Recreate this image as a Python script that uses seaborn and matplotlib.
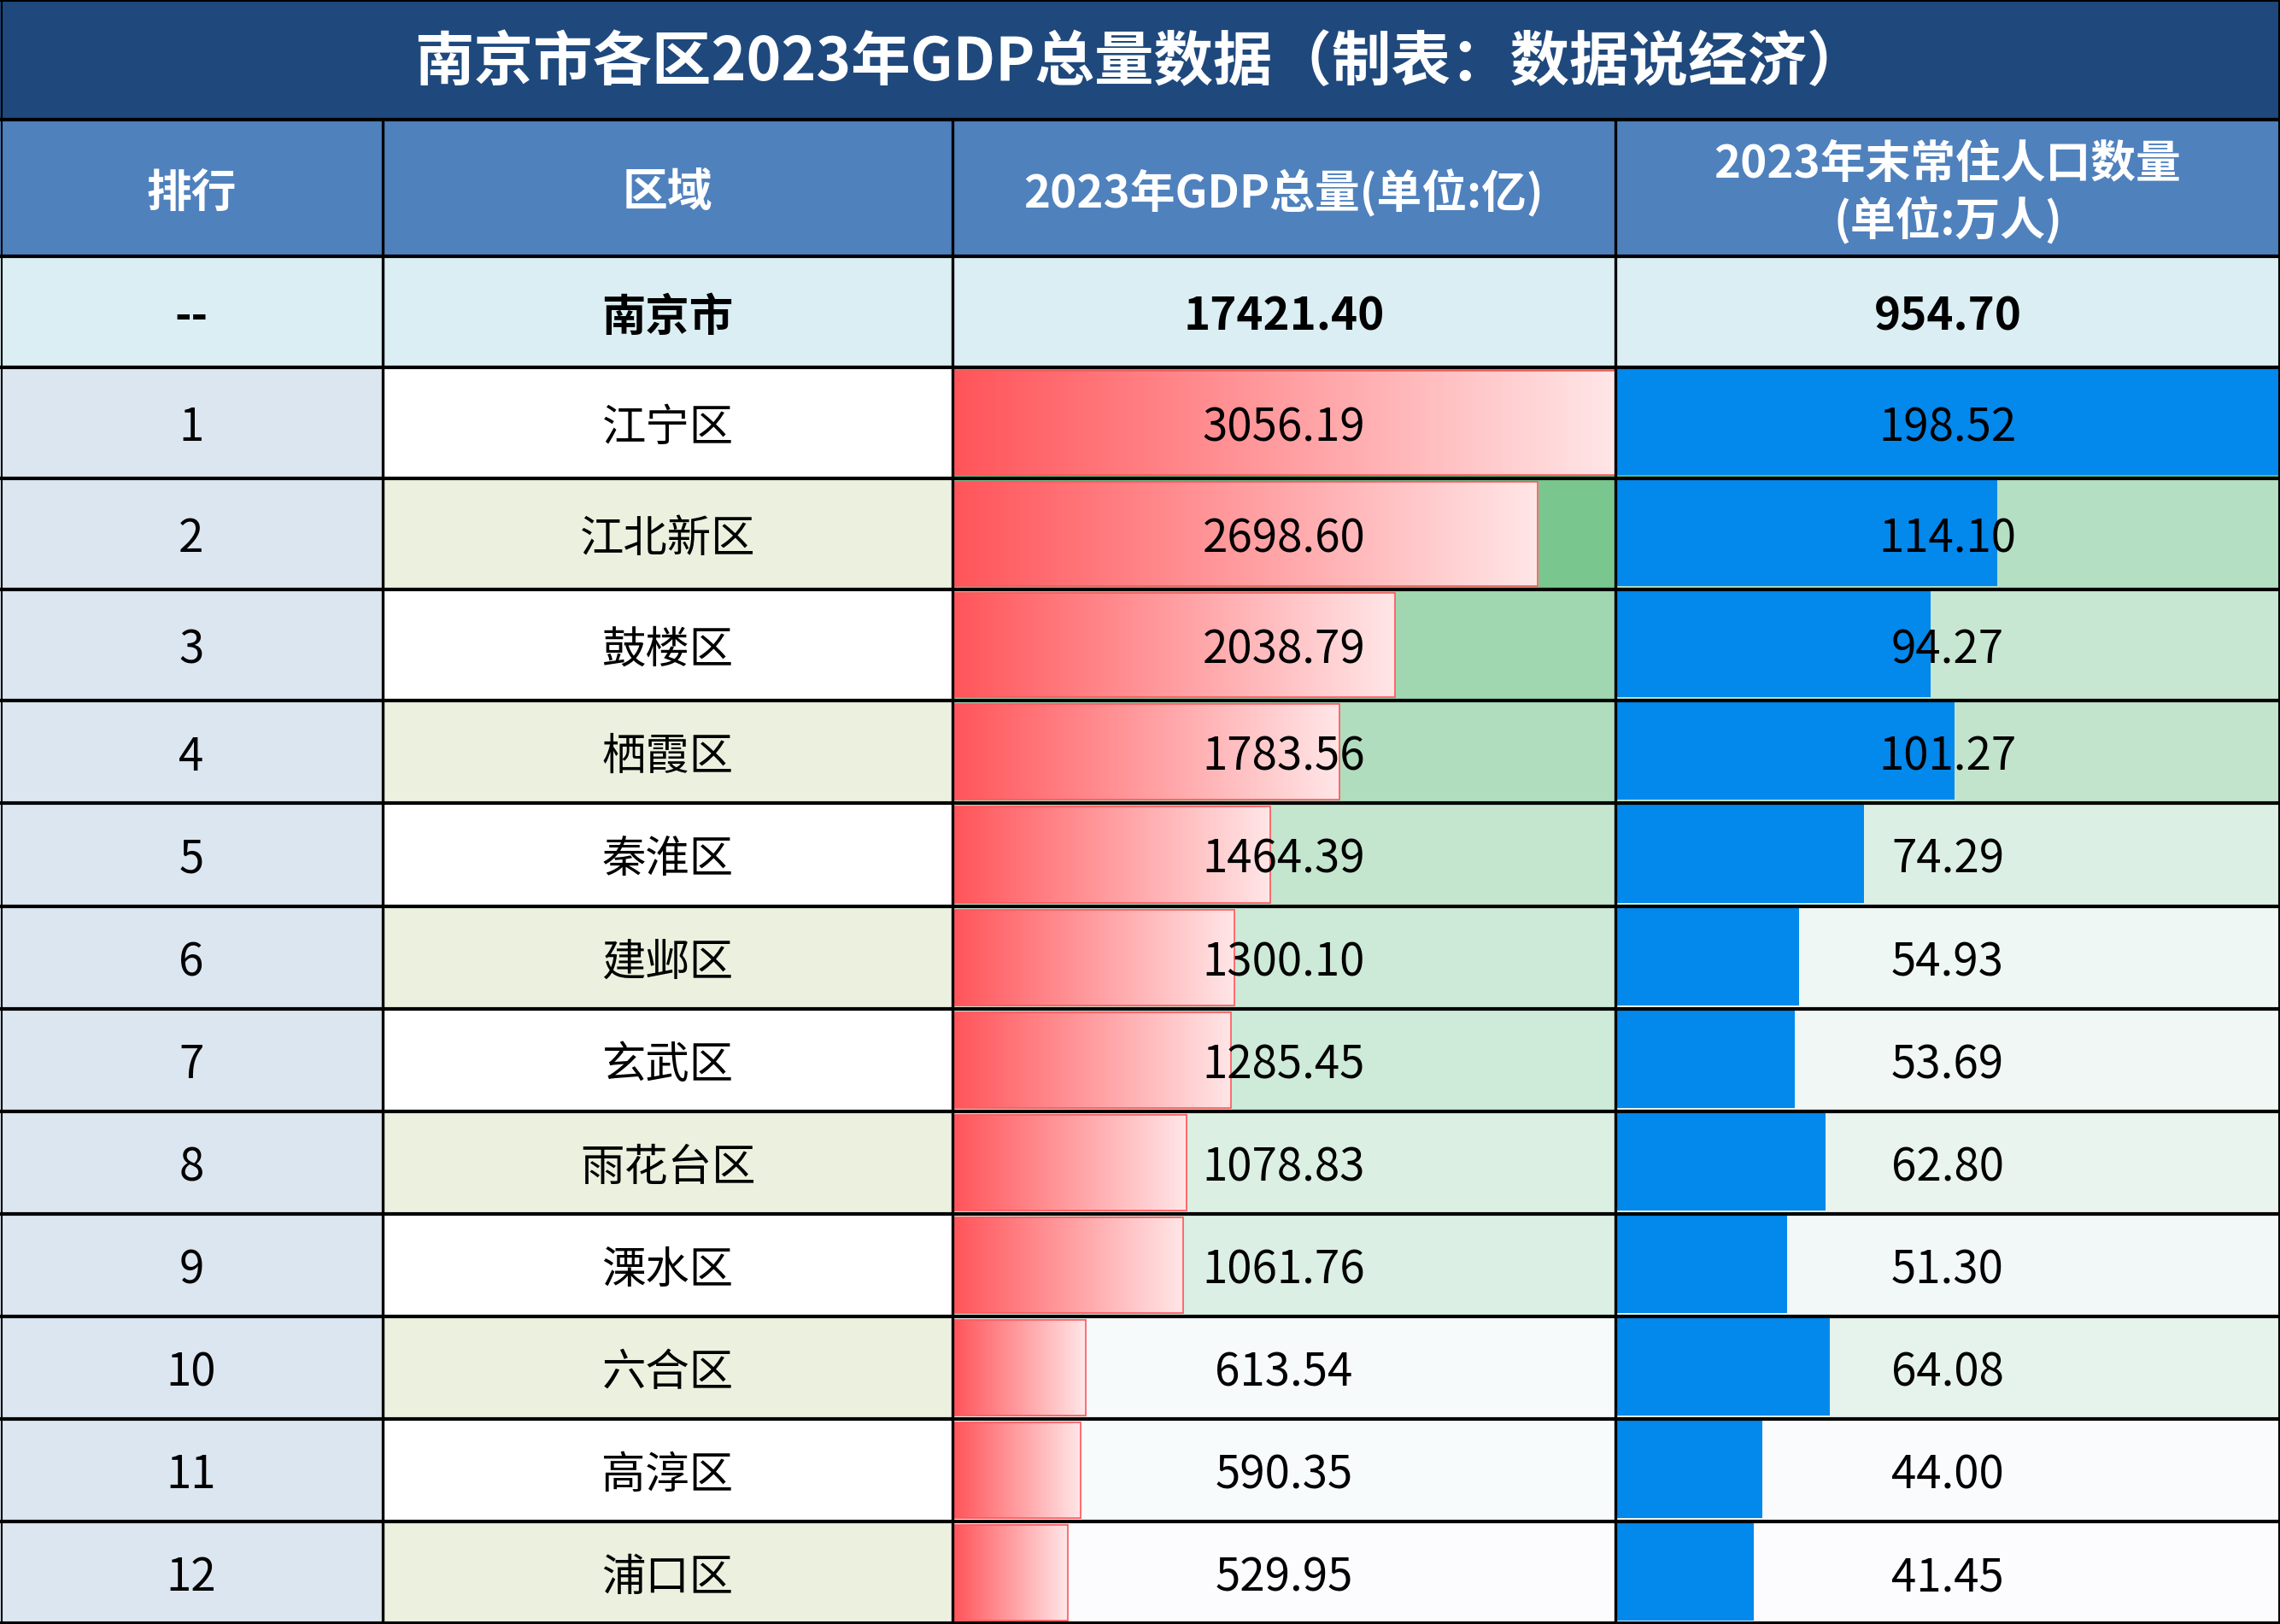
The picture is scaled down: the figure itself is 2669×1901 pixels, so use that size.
import numpy as np
import matplotlib
matplotlib.use('Agg')
import matplotlib.pyplot as plt
import seaborn as sns
from matplotlib.colors import Normalize

# ---- 数据 ----
ranks = ['1', '2', '3', '4', '5', '6', '7', '8', '9', '10', '11', '12']
districts = ['江宁区', '江北新区', '鼓楼区', '栖霞区', '秦淮区', '建邺区',
             '玄武区', '雨花台区', '溧水区', '六合区', '高淳区', '浦口区']
gdp_2023 = [3056.19, 2698.60, 2038.79, 1783.56, 1464.39, 1300.10,
            1285.45, 1078.83, 1061.76, 613.54, 590.35, 529.95]
population_2023 = [198.52, 114.10, 94.27, 101.27, 74.29, 54.93,
                   53.69, 62.80, 51.30, 64.08, 44.00, 41.45]
city_rank = '--'
city_name = '南京市'
city_gdp = 17421.40
city_population = 954.70

title = '南京市各区2023年GDP总量数据（制表：数据说经济）'
col_headers = ['排行', '区域', '2023年GDP总量(单位:亿)', '2023年末常住人口数量\n(单位:万人)']

# ---- 布局（像素） ----
W, H = 2669, 1901
col_edges = [0, 448, 1115, 1891, 2669]
row_edges = [140, 300, 430, 560, 690, 820, 940, 1061, 1181, 1301, 1421, 1541, 1661, 1781, 1901]

CJK = ['Noto Sans CJK SC', 'DejaVu Sans']
NUM = ['Liberation Sans Narrow', 'Noto Sans CJK SC', 'DejaVu Sans']

sns.set_theme(style='white')
plt.rcParams['font.family'] = CJK
plt.rcParams['axes.unicode_minus'] = False

green_cmap = sns.blend_palette(['#FCFCFF', '#63BE7B'], as_cmap=True)
red_cmap = sns.blend_palette(['#FF555A', '#FFE6E7'], as_cmap=True)
bar_blue = '#0388EC'

fig = plt.figure(figsize=(W / 100, H / 100), dpi=100)
ax = fig.add_axes([0, 0, 1, 1])


def cell(col, y0, y1, color, z=1):
    """填充一个单元格背景"""
    ax.barh((y0 + y1) / 2, col_edges[col + 1] - col_edges[col], left=col_edges[col],
            height=y1 - y0, color=color, linewidth=0, zorder=z)


def cell_text(col, y0, y1, s, family=CJK, size=36, weight='normal', color='black', dy=6):
    xc = (col_edges[col] + col_edges[col + 1]) / 2
    ax.text(xc, (y0 + y1) / 2 + dy, s, ha='center', va='center', fontsize=size,
            fontweight=weight, color=color, family=family, zorder=6, linespacing=1.25)


# 标题
ax.barh(row_edges[0] / 2, W, left=0, height=row_edges[0], color='#1F497D', linewidth=0, zorder=1)
ax.text(W / 2, row_edges[0] / 2 + 4, title, ha='center', va='center', fontsize=50,
        fontweight='bold', color='white', zorder=6)

# 表头
for c, name in enumerate(col_headers):
    cell(c, row_edges[0], row_edges[1], '#4F81BD')
    cell_text(c, row_edges[0], row_edges[1], name, size=38, weight='bold', color='white')

# 合计行
y0, y1 = row_edges[1], row_edges[2]
for c in range(4):
    cell(c, y0, y1, '#DAEEF3')
cell_text(0, y0, y1, city_rank, family=NUM, size=38, weight='bold')
cell_text(1, y0, y1, city_name, size=37, weight='bold')
cell_text(2, y0, y1, f'{city_gdp:.2f}', family=NUM, size=38, weight='bold')
cell_text(3, y0, y1, f'{city_population:.2f}', family=NUM, size=38, weight='bold')

# 各区
gdp_norm = Normalize(min(gdp_2023), max(gdp_2023))
pop_norm = Normalize(min(population_2023), max(population_2023))
gdp_w = col_edges[3] - col_edges[2]
pop_w = col_edges[4] - col_edges[3]
gradient = np.linspace(0, 1, 256).reshape(1, -1)

for i, (rank, name, g, p) in enumerate(zip(ranks, districts, gdp_2023, population_2023)):
    y0, y1 = row_edges[i + 2], row_edges[i + 3]
    yc = (y0 + y1) / 2
    cell(0, y0, y1, '#DCE6F1')
    cell(1, y0, y1, 'white' if i % 2 == 0 else '#EBF1DE')
    cell(2, y0, y1, green_cmap(gdp_norm(g)))
    cell(3, y0, y1, green_cmap(pop_norm(p)))

    # GDP 渐变数据条
    bh = (y1 - y0) - 8
    bw = g / max(gdp_2023) * gdp_w - 2
    bx = col_edges[2] + 2
    bar = ax.barh(yc, bw, left=bx, height=bh, color='none',
                  edgecolor='#FF555A', linewidth=1.2, zorder=3)[0]
    im = ax.imshow(gradient, cmap=red_cmap, aspect='auto', interpolation='bilinear',
                   extent=[bx, bx + bw, yc + bh / 2, yc - bh / 2], zorder=2)
    im.set_clip_path(bar)

    # 人口实心数据条
    pw = p / max(population_2023) * pop_w
    ax.barh(yc - 1, pw, left=col_edges[3], height=(y1 - y0) - 6,
            color=bar_blue, linewidth=0, zorder=2)

    cell_text(0, y0, y1, rank, family=NUM, size=38)
    cell_text(1, y0, y1, name, size=37)
    cell_text(2, y0, y1, f'{g:.2f}', family=NUM, size=38)
    cell_text(3, y0, y1, f'{p:.2f}', family=NUM, size=38)

# 表格线
ax.hlines(row_edges, 0, W, colors='black', linewidth=3.0, zorder=5)
ax.vlines(col_edges[1:-1], row_edges[0], H, colors='black', linewidth=2.4, zorder=5)
ax.vlines([1.5, W - 1.5], 0, H, colors='black', linewidth=1.5, zorder=5)
ax.hlines([1, H - 1.5], 0, W, colors='black', linewidth=1.5, zorder=5)

ax.set_xlim(0, W)
ax.set_ylim(H, 0)
ax.axis('off')

fig.savefig('out.png', dpi=100)
